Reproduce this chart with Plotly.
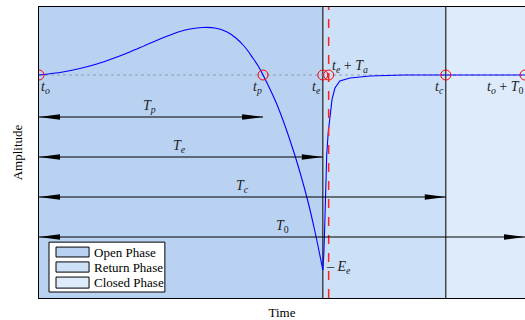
import plotly.graph_objects as go

# Event times (fraction of one period T0)
T_O = 0.0
T_P = 0.461
T_E = 0.584
T_A = 0.012
T_C = 0.837
T_0 = 1.0
E_E = -1.95

# Glottal flow derivative, open phase (t_o .. t_e)
OPEN_T = [0.0, 0.049, 0.084, 0.119, 0.152, 0.187, 0.218, 0.249, 0.270, 0.290,
          0.311, 0.337, 0.362, 0.387, 0.405, 0.420, 0.430, 0.440, 0.451, 0.461,
          0.490, 0.523, 0.551, 0.568, 0.584]
OPEN_AMP = [0.0, 0.03, 0.065, 0.11, 0.165, 0.23, 0.295, 0.36, 0.40, 0.435,
            0.46, 0.475, 0.47, 0.43, 0.37, 0.30, 0.24, 0.17, 0.09, 0.0,
            -0.30, -0.75, -1.22, -1.57, -1.95]

# Return phase (t_e .. t_c) and closed phase
RETURN_T = [0.584, 0.586, 0.588, 0.590, 0.592, 0.595, 0.599, 0.603, 0.609,
            0.619, 0.640, 0.681, 0.75, 0.837, 1.0]
RETURN_AMP = [-1.95, -1.80, -1.50, -1.10, -0.80, -0.58, -0.38, -0.24, -0.13,
              -0.06, -0.03, -0.01, 0.0, 0.0, 0.0]

EVENT_T = [T_O, T_P, T_E, T_E + T_A, T_C, T_0]

ARROW_NAMES = ['<i>T</i><sub><i>p</i></sub>', '<i>T</i><sub><i>e</i></sub>',
               '<i>T</i><sub><i>c</i></sub>', '<i>T</i><sub>0</sub>']
ARROW_ENDS = [T_P, T_E, T_C, T_0]
ARROW_LEVELS = [-0.42, -0.82, -1.22, -1.62]
ARROW_LABEL_X = [0.228, 0.29, 0.418, 0.502]

PHASE_NAMES = ['Open Phase', 'Return Phase', 'Closed Phase']
PHASE_COLORS = ['#b9d2f2', '#cce0f7', '#deebfa']
PHASE_BOUNDS = [(T_O, T_E), (T_E, T_C), (T_C, T_0)]

SERIF = 'Liberation Serif, Times New Roman, serif'

fig = go.Figure()

shapes = []
for (x0, x1), col in zip(PHASE_BOUNDS, PHASE_COLORS):
    shapes.append(dict(type='rect', xref='x', yref='paper', x0=x0, x1=x1, y0=0, y1=1,
                       fillcolor=col, line=dict(width=0), layer='below'))
# zero baseline
shapes.append(dict(type='line', xref='x', yref='y', x0=T_O, x1=T_0, y0=0, y1=0,
                   line=dict(color='#8c9bb0', width=1, dash='dot'), layer='below'))
# phase boundaries
for xv in [T_E, T_C]:
    shapes.append(dict(type='line', xref='x', yref='paper', x0=xv, x1=xv, y0=0, y1=1,
                       line=dict(color='#222222', width=1.2), layer='below'))
shapes.append(dict(type='line', xref='x', yref='paper', x0=T_E + T_A, x1=T_E + T_A, y0=0, y1=1,
                   line=dict(color='#ff2020', width=1.5, dash='dash'), layer='above'))

# duration arrows
for end, lvl in zip(ARROW_ENDS, ARROW_LEVELS):
    shapes.append(dict(type='line', xref='x', yref='y', x0=T_O, x1=end, y0=lvl, y1=lvl,
                       line=dict(color='black', width=1.2)))
    shapes.append(dict(type='path', xref='x', yref='y', xsizemode='pixel', ysizemode='pixel',
                       xanchor=T_O, yanchor=lvl, path='M0,0 L21,-2.8 L21,2.8 Z',
                       fillcolor='black', line=dict(width=0)))
    shapes.append(dict(type='path', xref='x', yref='y', xsizemode='pixel', ysizemode='pixel',
                       xanchor=end, yanchor=lvl, path='M0,0 L-21,-2.8 L-21,2.8 Z',
                       fillcolor='black', line=dict(width=0)))

# hand-made legend box
shapes.append(dict(type='rect', xref='paper', yref='paper', x0=0.0206, x1=0.259, y0=0.0206, y1=0.192,
                   fillcolor='white', line=dict(color='black', width=1)))
LEG_ROWS = [(0.141, 0.175), (0.089, 0.124), (0.034, 0.072)]
for (y0, y1), col in zip(LEG_ROWS, PHASE_COLORS):
    shapes.append(dict(type='rect', xref='paper', yref='paper', x0=0.035, x1=0.103, y0=y0, y1=y1,
                       fillcolor=col, line=dict(color='black', width=1)))

fig.add_trace(go.Scatter(x=OPEN_T, y=OPEN_AMP, mode='lines', line=dict(color='blue', width=1.1, shape='spline', smoothing=1.0),
                         showlegend=False, hoverinfo='skip'))
fig.add_trace(go.Scatter(x=RETURN_T, y=RETURN_AMP, mode='lines', line=dict(color='blue', width=1.1),
                         showlegend=False, hoverinfo='skip'))
fig.add_trace(go.Scatter(x=EVENT_T, y=[0] * len(EVENT_T), mode='markers',
                         marker=dict(symbol='circle-open', size=10, color='red', line=dict(width=1)),
                         showlegend=False, hoverinfo='skip'))

annotations = []
lab_font = dict(family=SERIF, size=14, color='#222222')
EVENT_LABELS = [
    ('<i>t</i><sub><i>o</i></sub>', 0.0, 'left', -0.12),
    ('<i>t</i><sub><i>p</i></sub>', 0.449, 'center', -0.12),
    ('<i>t</i><sub><i>e</i></sub>', 0.571, 'center', -0.12),
    ('<i>t</i><sub><i>e</i></sub> + <i>T</i><sub><i>a</i></sub>', 0.598, 'left', 0.09),
    ('<i>t</i><sub><i>c</i></sub>', 0.824, 'center', -0.12),
    ('<i>t</i><sub><i>o</i></sub> + <i>T</i><sub>0</sub>', 0.918, 'left', -0.12),
]
for txt, xv, anc, yv in EVENT_LABELS:
    annotations.append(dict(x=xv, y=yv, xref='x', yref='y', text=txt, showarrow=False,
                            xanchor=anc, yanchor='middle', font=lab_font))
for txt, xv, lvl in zip(ARROW_NAMES, ARROW_LABEL_X, ARROW_LEVELS):
    annotations.append(dict(x=xv, y=lvl + 0.11, xref='x', yref='y', text=txt, showarrow=False,
                            xanchor='center', yanchor='middle', font=lab_font))
annotations.append(dict(x=T_E + 0.002, y=E_E + 0.03, xref='x', yref='y', text='– <i>E</i><sub><i>e</i></sub>',
                        showarrow=False, xanchor='left', yanchor='middle', font=lab_font))
for name, (y0, y1) in zip(PHASE_NAMES, LEG_ROWS):
    annotations.append(dict(x=0.109, y=(y0 + y1) / 2, xref='paper', yref='paper', text=name, showarrow=False,
                            xanchor='left', yanchor='middle', font=dict(family=SERIF, size=13, color='black')))

fig.update_layout(
    width=525, height=320,
    margin=dict(l=39, r=0, t=7, b=22),
    paper_bgcolor='white', plot_bgcolor='white',
    font=dict(family=SERIF, size=12, color='black'),
    shapes=shapes, annotations=annotations,
    xaxis=dict(range=[T_O, T_0], showgrid=False, zeroline=False, showticklabels=False, ticks='',
               showline=True, linecolor='black', linewidth=1, mirror=True,
               title=dict(text='Time', standoff=13, font=dict(family=SERIF, size=13))),
    yaxis=dict(range=[-2.23, 0.68], showgrid=False, zeroline=False, showticklabels=False, ticks='',
               showline=True, linecolor='black', linewidth=1,
               title=dict(text='Amplitude', standoff=12, font=dict(family=SERIF, size=13))),
)

fig.write_html('out.html', config={'displayModeBar': False},
               post_script="document.body.style.margin='0';")
